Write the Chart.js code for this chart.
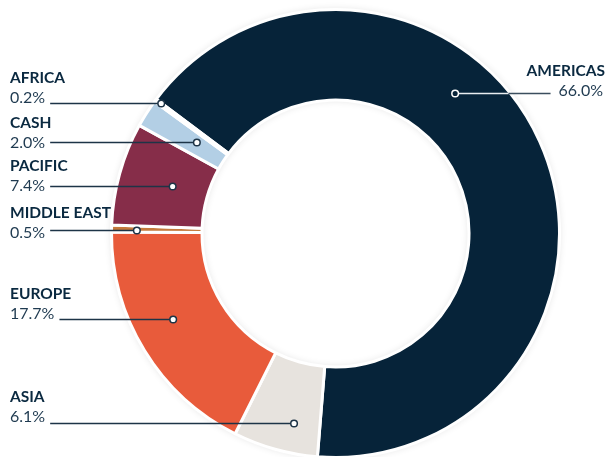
<!DOCTYPE html>
<html>
<head>
<meta charset="utf-8">
<script src="https://cdn.jsdelivr.net/npm/chart.js@4/dist/chart.umd.min.js"></script>
<style>
  html, body { margin: 0; padding: 0; background: #ffffff; overflow: hidden; }
  #wrap { position: relative; width: 605px; height: 460px; }
</style>
</head>
<body>
<div id="wrap"><canvas id="c"></canvas></div>
<script>
// ---- data ----
const regions = ['AMERICAS', 'ASIA', 'EUROPE', 'MIDDLE EAST', 'PACIFIC', 'CASH', 'AFRICA'];
const shares = [66.0, 6.1, 17.7, 0.5, 7.4, 2.0, 0.2];
const shareLabels = ['66.0%', '6.1%', '17.7%', '0.5%', '7.4%', '2.0%', '0.2%'];

// ---- styling ----
const sliceColors = ['#062339', '#e7e3de', '#e85b3b', '#c47a3c', '#862d49', '#b3cfe5', '#dcdcdc'];
// callout placement per slice: angle fraction within slice, radial fraction within ring,
// side, baseline offset of value text relative to leader line
const callouts = [
  { af: 0.394, rf: 0.56, side: 'right', off: 2 },
  { af: 0.35,  rf: 0.67, side: 'left',  off: -2 },
  { af: 0.56,  rf: 0.55, side: 'left',  off: -1 },
  { af: 0.33,  rf: 0.72, side: 'left',  off: 7 },
  { af: 0.53,  rf: 0.40, side: 'left',  off: 4 },
  { af: 0.63,  rf: 0.36, side: 'left',  off: 5 },
  { af: 1.00,  rf: 0.93, side: 'left',  off: -1 }
];
const FONT_FAMILY = 'Lato, "Open Sans", sans-serif';
const TITLE_FONT = 'bold 15.5px ' + FONT_FAMILY;
const VALUE_FONT = '16px ' + FONT_FAMILY;
const TITLE_COLOR = '#0a2940';
const VALUE_COLOR = '#1f3a50';
const LINE_COLOR = '#1d3447';

const ringShadow = {
  id: 'ringShadow',
  beforeDatasetsDraw(chart) {
    const arc = chart.getDatasetMeta(0).data[0];
    if (!arc) return;
    const p = arc.getProps(['x', 'y', 'innerRadius', 'outerRadius'], true);
    const ctx = chart.ctx;
    ctx.save();
    ctx.beginPath();
    ctx.arc(p.x, p.y, p.outerRadius - 1, 0, Math.PI * 2);
    ctx.arc(p.x, p.y, p.innerRadius + 1, 0, Math.PI * 2, true);
    ctx.fillStyle = '#ffffff';
    ctx.shadowColor = 'rgba(0,0,0,0.16)';
    ctx.shadowBlur = 9;
    ctx.fill('evenodd');
    ctx.restore();
  }
};

const calloutPlugin = {
  id: 'callouts',
  afterDatasetsDraw(chart) {
    const ctx = chart.ctx;
    const meta = chart.getDatasetMeta(0);
    const W = chart.width;
    meta.data.forEach((arc, i) => {
      const c = callouts[i];
      const p = arc.getProps(['x', 'y', 'startAngle', 'endAngle', 'innerRadius', 'outerRadius'], true);
      const ang = p.startAngle + c.af * (p.endAngle - p.startAngle);
      const rad = p.innerRadius + c.rf * (p.outerRadius - p.innerRadius);
      const dx = p.x + Math.cos(ang) * rad;
      const dy = Math.round(p.y + Math.sin(ang) * rad) + 0.5;
      ctx.save();
      ctx.font = VALUE_FONT;
      const valW = ctx.measureText(shareLabels[i]).width;
      ctx.lineWidth = 1.3;
      if (c.side === 'left') {
        const tx = 10;
        const lx = tx + valW + 5;
        ctx.strokeStyle = LINE_COLOR;
        ctx.beginPath(); ctx.moveTo(lx, dy); ctx.lineTo(dx, dy); ctx.stroke();
        ctx.textAlign = 'left';
        ctx.textBaseline = 'alphabetic';
        ctx.fillStyle = VALUE_COLOR;
        ctx.font = VALUE_FONT;
        ctx.fillText(shareLabels[i], tx, dy + c.off);
        ctx.fillStyle = TITLE_COLOR;
        ctx.font = TITLE_FONT;
        ctx.fillText(regions[i], tx, dy + c.off - 20);
        ctx.beginPath(); ctx.arc(dx, dy, 3.3, 0, Math.PI * 2);
        ctx.fillStyle = '#ffffff'; ctx.fill();
        ctx.strokeStyle = LINE_COLOR; ctx.lineWidth = 1.5; ctx.stroke();
      } else {
        const tx = W - 2;
        const lx = tx - valW - 8;
        // leader: dark outside ring, light inside the dark slice
        const vOuter = p.outerRadius - 1.5;
        const h = dy - p.y;
        const edgeX = p.x + Math.sqrt(Math.max(vOuter * vOuter - h * h, 0));
        ctx.strokeStyle = '#3b4e5e';
        ctx.beginPath(); ctx.moveTo(edgeX, dy); ctx.lineTo(lx, dy); ctx.stroke();
        ctx.strokeStyle = '#e9edf1';
        ctx.beginPath(); ctx.moveTo(dx, dy); ctx.lineTo(edgeX, dy); ctx.stroke();
        ctx.textAlign = 'right';
        ctx.textBaseline = 'alphabetic';
        ctx.fillStyle = VALUE_COLOR;
        ctx.font = VALUE_FONT;
        ctx.fillText(shareLabels[i], tx, dy + c.off);
        ctx.fillStyle = TITLE_COLOR;
        ctx.font = TITLE_FONT;
        ctx.fillText(regions[i], tx + 2, dy + c.off - 20);
        ctx.beginPath(); ctx.arc(dx, dy, 3.3, 0, Math.PI * 2);
        ctx.fillStyle = sliceColors[i]; ctx.fill();
        ctx.strokeStyle = '#ffffff'; ctx.lineWidth = 1.5; ctx.stroke();
      }
      ctx.restore();
    });
  }
};

new Chart(document.getElementById('c'), {
  type: 'doughnut',
  data: {
    labels: regions,
    datasets: [{
      data: shares,
      backgroundColor: sliceColors,
      borderColor: '#ffffff',
      borderWidth: 3,
      hoverBorderWidth: 3,
      hoverOffset: 0
    }]
  },
  options: {
    responsive: true,
    maintainAspectRatio: false,
    animation: false,
    rotation: -53.2,
    cutout: '59.6%',
    layout: { padding: { left: 110, right: 44, top: 8, bottom: 1 } },
    plugins: { legend: { display: false }, tooltip: { enabled: false } },
    events: []
  },
  plugins: [ringShadow, calloutPlugin]
});
</script>
</body>
</html>
